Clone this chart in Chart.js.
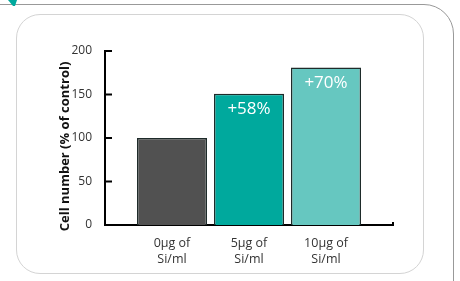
<!DOCTYPE html>
<html>
<head>
<meta charset="utf-8">
<script src="https://cdn.jsdelivr.net/npm/chart.js@4"></script>
<style>
  body { margin: 0; background: #fff; overflow: hidden; }
  #wrap { position: relative; width: 460px; height: 281px; overflow: hidden; }
  .outer { position: absolute; left: -40px; top: 4px; width: 494px; height: 320px; border: 1.5px solid #999; border-radius: 30px; box-sizing: border-box; }
  .inner { position: absolute; left: 16px; top: 14px; width: 408px; height: 260px; border: 1px solid #d4d4d4; border-radius: 24px; box-sizing: border-box; }
  .corner { position: absolute; left: 7px; top: 0; width: 10px; height: 6px; background: #00a99d; clip-path: polygon(10% 0, 100% 0, 80% 100%, 60% 100%); }
  canvas { position: absolute; left: 0; top: 0; }
</style>
</head>
<body>
<div id="wrap">
  <div class="outer"></div>
  <div class="inner"></div>
  <div class="corner"></div>
  <canvas id="chart" width="460" height="281"></canvas>
</div>
<script>
var categories = [['0µg of', 'Si/ml'], ['5µg of', 'Si/ml'], ['10µg of', 'Si/ml']];
var values = [100, 151, 181];
var barLabels = ['', '+58%', '+70%'];
var barColors = ['#515151', '#00a99d', '#66c7c0'];
var yTicks = [0, 50, 100, 150, 200];

// short ticks pointing into the plot, plus the little end mark on the x axis
var axisMarks = {
    id: 'axisMarks',
    afterDraw: function(chart) {
        var ctx = chart.ctx;
        var y = chart.scales.y, x = chart.scales.x;
        ctx.save();
        ctx.strokeStyle = '#000';
        ctx.lineWidth = 2;
        ctx.beginPath();
        y.ticks.forEach(function(t) {
            var py = y.getPixelForValue(t.value);
            ctx.moveTo(x.left, py);
            ctx.lineTo(x.left + 7, py);
        });
        ctx.moveTo(x.right, y.bottom + 1);
        ctx.lineTo(x.right, y.bottom - 3);
        ctx.stroke();
        ctx.restore();
    }
};

var barText = {
    id: 'barText',
    afterDatasetsDraw: function(chart) {
        var ctx = chart.ctx;
        var meta = chart.getDatasetMeta(0);
        ctx.save();
        ctx.fillStyle = '#fff';
        ctx.font = '17px "Open Sans"';
        ctx.textAlign = 'center';
        ctx.textBaseline = 'middle';
        meta.data.forEach(function(bar, i) {
            if (barLabels[i]) ctx.fillText(barLabels[i], bar.x, bar.y + 16);
        });
        ctx.restore();
    }
};

var ctx = document.getElementById('chart').getContext('2d');
new Chart(ctx, {
    type: 'bar',
    data: {
        datasets: [{
            data: values.map(function(v, i) { return {x: i, y: v}; }),
            backgroundColor: barColors,
            borderColor: '#1e2b2a',
            borderWidth: 1.5,
            barPercentage: 0.91,
            categoryPercentage: 1
        }]
    },
    options: {
        responsive: false,
        animation: false,
        layout: { padding: { left: 52, top: 51, right: 67, bottom: 0 } },
        plugins: { legend: { display: false }, tooltip: { enabled: false } },
        scales: {
            x: {
                type: 'linear',
                min: -0.87,
                max: 2.87,
                offset: false,
                grid: { display: false },
                border: { color: '#000', width: 2 },
                afterFit: function(s) { s.height = 56; },
                afterBuildTicks: function(s) {
                    s.ticks = categories.map(function(c, i) { return {value: i}; });
                },
                ticks: {
                    padding: 2,
                    color: '#333',
                    font: { family: 'Open Sans', size: 12.5, lineHeight: 1.3 },
                    callback: function(v, i) { return categories[i]; }
                }
            },
            y: {
                min: 0,
                max: 200,
                grid: { display: false },
                border: { color: '#000', width: 2 },
                afterFit: function(s) { s.width = 53; },
                afterBuildTicks: function(s) {
                    s.ticks = yTicks.map(function(v) { return {value: v}; });
                },
                ticks: {
                    padding: 5,
                    color: '#333',
                    font: { family: 'Open Sans', size: 12 }
                },
                title: {
                    display: true,
                    text: 'Cell number (% of control)     ',
                    color: '#111',
                    padding: { top: 5, bottom: 0 },
                    font: { family: 'Open Sans', size: 13, weight: 'bold' }
                }
            }
        }
    },
    plugins: [axisMarks, barText]
});
</script>
</body>
</html>
